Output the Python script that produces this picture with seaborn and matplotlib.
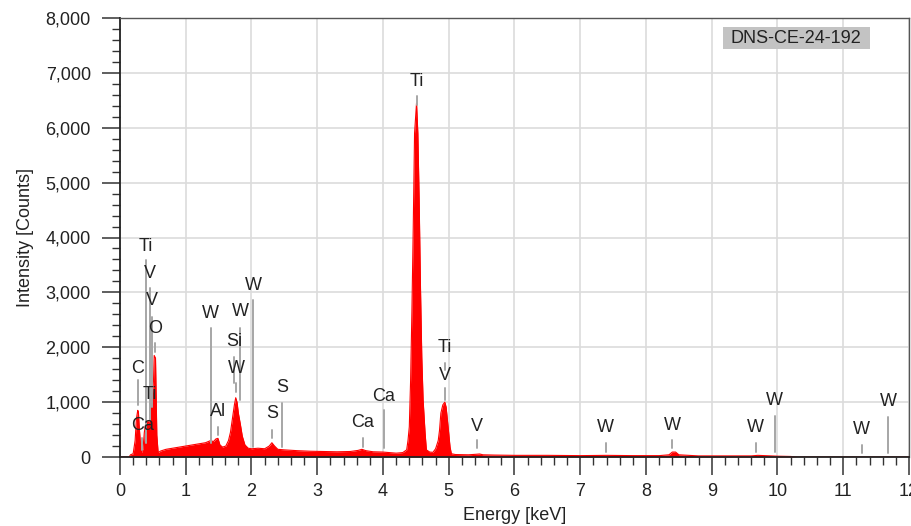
import matplotlib
matplotlib.use("Agg")
import matplotlib.pyplot as plt
import seaborn as sns
from matplotlib.patches import Rectangle
from matplotlib.ticker import MultipleLocator, FuncFormatter

# EDS spectrum (keV, counts)
energy_kev = [0.00, 0.14, 0.16, 0.20, 0.23, 0.25, 0.27, 0.28, 0.29, 0.31, 0.33, 0.35, 0.37,
              0.39, 0.41, 0.43, 0.45, 0.47, 0.49, 0.51, 0.52, 0.54, 0.55, 0.56, 0.58,
              0.62, 0.70, 0.80, 0.90, 1.00, 1.10, 1.20, 1.30, 1.38, 1.42, 1.46, 1.49,
              1.52, 1.56, 1.61, 1.65, 1.68, 1.71, 1.74, 1.76, 1.78, 1.80, 1.83, 1.86,
              1.90, 1.95, 2.00, 2.10, 2.20, 2.27, 2.31, 2.35, 2.40, 2.50, 2.70, 2.90,
              3.10, 3.30, 3.50, 3.62, 3.68, 3.74, 3.85, 4.00, 4.20, 4.30, 4.36, 4.38,
              4.40, 4.42, 4.44, 4.46, 4.48, 4.51, 4.53, 4.55, 4.57, 4.59, 4.61, 4.64,
              4.66, 4.71, 4.76, 4.80, 4.84, 4.86, 4.88, 4.91, 4.94, 4.96, 4.99, 5.02,
              5.04, 5.10, 5.30, 5.42, 5.47, 5.52, 5.70, 6.00, 6.50, 7.00, 7.40, 7.80,
              8.20, 8.35, 8.40, 8.45, 8.50, 8.80, 9.20, 9.60, 9.70, 10.00, 10.20,
              10.30, 12.00]
counts = [0, 0, 40, 60, 300, 700, 850, 820, 600, 250, 80, 150, 450,
          600, 650, 620, 680, 1050, 1100, 1400, 1850, 1800, 1100, 400, 80,
          110, 140, 160, 180, 200, 220, 240, 260, 300, 280, 330, 340,
          220, 180, 200, 300, 450, 700, 950, 1080, 1000, 800, 600, 380,
          220, 160, 150, 160, 150, 200, 260, 200, 140, 130, 115, 105,
          100, 95, 100, 120, 140, 115, 95, 90, 70, 80, 130, 300,
          550, 1400, 2680, 4190, 5900, 6450, 5900, 4680, 3100, 1820, 1040, 440,
          130, 90, 85, 150, 300, 490, 800, 950, 1000, 910, 550, 180,
          60, 45, 40, 50, 55, 40, 35, 30, 30, 25, 30, 25,
          25, 40, 90, 90, 40, 20, 20, 20, 30, 15, 10,
          0, 0]

# peak markers: label, energy, marker line bottom/top, label centre (counts)
peak_labels = ["C", "Ca", "Ti", "Ti", "V", "V", "O", "W", "Al", "Si", "W", "W", "W",
               "S", "S", "Ca", "Ca", "Ti", "Ti", "V", "V", "W", "W", "W", "W", "W", "W"]
peak_kev = [0.27, 0.34, 0.45, 0.39, 0.45, 0.48, 0.53, 1.38, 1.49, 1.74, 1.77, 1.83, 2.03,
            2.31, 2.46, 3.69, 4.01, 4.51, 4.94, 4.94, 5.43, 7.39, 8.40, 9.67, 9.96, 11.28, 11.68]
line_lo = [950, 130, 670, 255, 670, 910, 1910, 255, 400, 1350, 1180, 1040, 180,
           350, 180, 180, 165, 6410, 1585, 1040, 165, 90, 165, 90, 90, 70, 70]
line_hi = [1400, 350, 1000, 3590, 3080, 2550, 2080, 2350, 550, 1820, 1350, 2350, 2860,
           490, 985, 350, 860, 6575, 1710, 1260, 310, 255, 310, 255, 750, 220, 735]
label_y = [1620, 580, 1130, 3840, 3350, 2860, 2350, 2620, 825, 2100, 1620, 2650, 3130,
           800, 1260, 620, 1100, 6840, 1990, 1490, 550, 530, 580, 530, 1030, 510, 1010]

sns.set_style("white")
plt.rcParams["font.family"] = ["Liberation Sans", "DejaVu Sans"]

fig = plt.figure(figsize=(9.12, 5.26), dpi=100)
ax = fig.add_axes([120 / 912, 69 / 526, 789 / 912, 439 / 526])

ax.fill_between(energy_kev, counts, 0, color="#ff0000", linewidth=0, zorder=2)
sns.lineplot(x=energy_kev, y=counts, ax=ax, color="#ff0000", linewidth=0.8, zorder=2)

for lab, x, lo, hi, ty in zip(peak_labels, peak_kev, line_lo, line_hi, label_y):
    ax.plot([x, x], [lo, hi], color="#a6a6a6", linewidth=1.4, zorder=3)
    ax.text(x, ty, lab, ha="center", va="center", fontsize=13, color="#222222", zorder=4)

ax.set_xlim(0, 12)
ax.set_ylim(0, 8000)
ax.xaxis.set_major_locator(MultipleLocator(1))
ax.xaxis.set_minor_locator(MultipleLocator(0.2))
ax.yaxis.set_major_locator(MultipleLocator(1000))
ax.yaxis.set_minor_locator(MultipleLocator(200))
ax.yaxis.set_major_formatter(FuncFormatter(lambda v, p: f"{int(v):,}"))

ax.grid(True, which="major", color="#dcdcdc", linewidth=1.2, zorder=0)
ax.set_axisbelow(True)
ax.tick_params(axis="both", which="major", direction="out", length=13, width=1.1,
               color="#333333", labelsize=13, labelcolor="#222222")
ax.tick_params(axis="x", which="major", pad=6)
ax.tick_params(axis="y", which="major", pad=8)
ax.tick_params(axis="both", which="minor", direction="out", length=6, width=1.0,
               color="#333333")
ax.tick_params(axis="x", which="both", bottom=True)
ax.tick_params(axis="y", which="both", left=True)

for side in ["left", "bottom"]:
    ax.spines[side].set_color("#222222")
    ax.spines[side].set_linewidth(1.3)
for side in ["top", "right"]:
    ax.spines[side].set_color("#555555")
    ax.spines[side].set_linewidth(1.0)

ax.set_xlabel("Energy [keV]", fontsize=13, color="#222222", labelpad=5)
ax.set_ylabel("Intensity [Counts]", fontsize=13, color="#222222", labelpad=8)

# sample tag box in the upper right corner
ax.add_patch(Rectangle((0.764, 0.929), 0.187, 0.0505, transform=ax.transAxes,
                       facecolor="#c3c3c3", edgecolor="none", zorder=5))
ax.text(0.857, 0.954, "DNS-CE-24-192", transform=ax.transAxes, ha="center", va="center",
        fontsize=13, color="#222222", zorder=6)

fig.savefig("out.png", dpi=100)
plt.close(fig)
